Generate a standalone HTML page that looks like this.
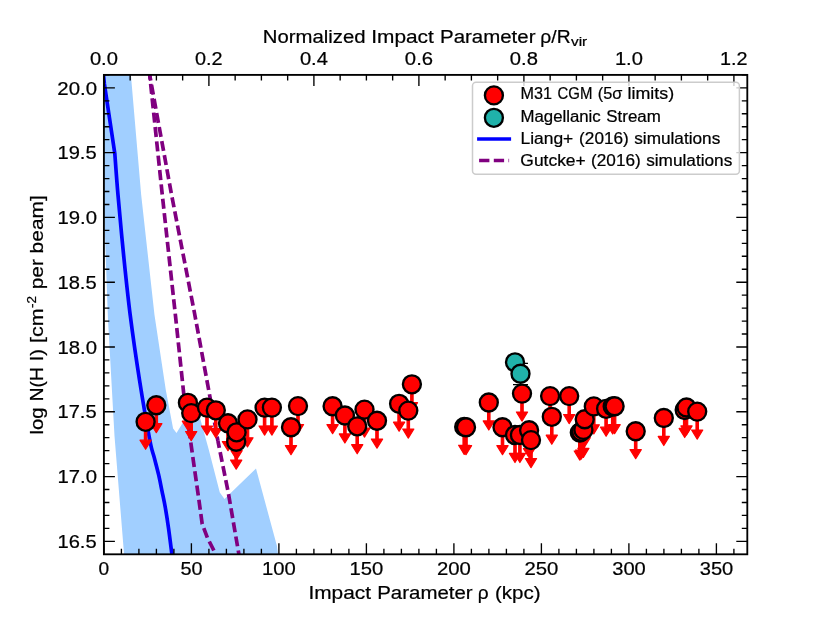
<!DOCTYPE html>
<html><head><meta charset="utf-8"><title>M31 CGM N(HI) limits</title>
<style>html,body{margin:0;padding:0;background:#fff;}svg{display:block;will-change:transform}text{font-family:"Liberation Sans",sans-serif;fill:#000;stroke:#000;stroke-width:.22px}</style>
</head><body>
<svg width="830" height="623" viewBox="0 0 830 623">
<rect x="0" y="0" width="830" height="623" fill="#fff"/>
<defs><clipPath id="ax"><rect x="103.9" y="74.9" width="643.4" height="479.4"/></clipPath></defs>
<g clip-path="url(#ax)">
<polygon fill="#a1cfff" points="103.9,60.0 103.9,205.0 107.9,318.0 114.5,436.0 124.2,556.0 278.3,556.0 276.9,545.7 256.0,468.6 224.5,498.9 219.8,492.4 208.8,449.8 200.6,419.9 195.6,401.9 176.5,432.9 173.1,428.6 165.8,390.0 154.5,315.0 141.2,195.0 130.9,74.9 129.6,60.0"/>
<path fill="none" stroke="#0000ff" stroke-width="3.7" stroke-linejoin="round" d="M103.2,72.0C103.40,74.00 104.20,82.00 104.4,84.0C106.13,95.57 113.07,141.83 114.8,153.4C115.33,160.33 116.53,178.07 118.0,195.0C119.47,211.93 121.57,235.00 123.6,255.0C125.63,275.00 127.55,294.17 130.2,315.0C132.85,335.83 136.23,359.17 139.5,380.0C142.77,400.83 147.35,427.10 149.8,440.0C152.25,452.90 152.73,451.62 154.2,457.4C155.67,463.18 157.30,469.08 158.6,474.7C159.90,480.32 160.88,485.63 162.0,491.1C163.12,496.57 164.20,501.23 165.3,507.5C166.40,513.77 167.50,520.90 168.6,528.7C169.70,536.50 171.23,549.08 171.9,554.3C172.57,559.52 172.48,559.05 172.6,560.0"/>
<polyline fill="none" stroke="#800080" stroke-width="3.7" stroke-dasharray="10.1 4.34" stroke-dashoffset="10.91" points="148.8,66.0 149.7,75.0 162.3,195.0 175.5,316.0 183.7,393.4 190.7,442.0 198.5,497.0 202.2,524.0 207.5,538.0 213.6,550.0 216.0,556.0"/>
<polyline fill="none" stroke="#800080" stroke-width="3.7" stroke-dasharray="10 4.31" stroke-dashoffset="9.53" points="148.2,66.0 149.7,75.0 171.6,195.0 194.3,312.0 209.3,393.4 217.9,440.8"/>
<polyline fill="none" stroke="#800080" stroke-width="3.7" stroke-dasharray="10 4.31" stroke-dashoffset="2.85" points="217.9,440.8 228.3,492.7 238.9,554.3 240.0,560.0"/>
</g>
<g id="arrows" fill="#ff0000" stroke="#ff0000" stroke-width="1.2" stroke-linejoin="round">
<path d="M144.40,421.8h2.4v18.4h4.4l-5.6,9.1l-5.6,-9.1h4.4z"/>
<path d="M155.10,405.2h2.4v18.4h4.4l-5.6,9.1l-5.6,-9.1h4.4z"/>
<path d="M186.70,402.8h2.4v18.4h4.4l-5.6,9.1l-5.6,-9.1h4.4z"/>
<path d="M190.00,413.1h2.4v18.4h4.4l-5.6,9.1l-5.6,-9.1h4.4z"/>
<path d="M205.80,407.6h2.4v18.4h4.4l-5.6,9.1l-5.6,-9.1h4.4z"/>
<path d="M214.60,410.3h2.4v18.4h4.4l-5.6,9.1l-5.6,-9.1h4.4z"/>
<path d="M226.80,423.2h2.4v18.4h4.4l-5.6,9.1l-5.6,-9.1h4.4z"/>
<path d="M235.00,441.7h2.4v18.4h4.4l-5.6,9.1l-5.6,-9.1h4.4z"/>
<path d="M235.40,432.3h2.4v18.4h4.4l-5.6,9.1l-5.6,-9.1h4.4z"/>
<path d="M246.30,419.4h2.4v18.4h4.4l-5.6,9.1l-5.6,-9.1h4.4z"/>
<path d="M263.40,407.6h2.4v18.4h4.4l-5.6,9.1l-5.6,-9.1h4.4z"/>
<path d="M270.70,407.6h2.4v18.4h4.4l-5.6,9.1l-5.6,-9.1h4.4z"/>
<path d="M296.80,406.1h2.4v18.4h4.4l-5.6,9.1l-5.6,-9.1h4.4z"/>
<path d="M289.80,427.2h2.4v18.4h4.4l-5.6,9.1l-5.6,-9.1h4.4z"/>
<path d="M331.40,406.2h2.4v18.4h4.4l-5.6,9.1l-5.6,-9.1h4.4z"/>
<path d="M343.70,415.5h2.4v18.4h4.4l-5.6,9.1l-5.6,-9.1h4.4z"/>
<path d="M363.30,409.6h2.4v18.4h4.4l-5.6,9.1l-5.6,-9.1h4.4z"/>
<path d="M356.00,426.3h2.4v18.4h4.4l-5.6,9.1l-5.6,-9.1h4.4z"/>
<path d="M375.80,420.7h2.4v18.4h4.4l-5.6,9.1l-5.6,-9.1h4.4z"/>
<path d="M397.90,403.8h2.4v18.4h4.4l-5.6,9.1l-5.6,-9.1h4.4z"/>
<path d="M410.70,384.3h2.4v18.4h4.4l-5.6,9.1l-5.6,-9.1h4.4z"/>
<path d="M407.10,410.6h2.4v18.4h4.4l-5.6,9.1l-5.6,-9.1h4.4z"/>
<path d="M463.00,426.9h2.4v18.4h4.4l-5.6,9.1l-5.6,-9.1h4.4z"/>
<path d="M464.80,427.2h2.4v18.4h4.4l-5.6,9.1l-5.6,-9.1h4.4z"/>
<path d="M487.60,402.5h2.4v18.4h4.4l-5.6,9.1l-5.6,-9.1h4.4z"/>
<path d="M501.30,427.2h2.4v18.4h4.4l-5.6,9.1l-5.6,-9.1h4.4z"/>
<path d="M513.80,435.0h2.4v18.4h4.4l-5.6,9.1l-5.6,-9.1h4.4z"/>
<path d="M518.70,435.0h2.4v18.4h4.4l-5.6,9.1l-5.6,-9.1h4.4z"/>
<path d="M520.80,393.6h2.4v18.4h4.4l-5.6,9.1l-5.6,-9.1h4.4z"/>
<path d="M527.90,430.2h2.4v18.4h4.4l-5.6,9.1l-5.6,-9.1h4.4z"/>
<path d="M529.80,440.1h2.4v18.4h4.4l-5.6,9.1l-5.6,-9.1h4.4z"/>
<path d="M548.90,396.1h2.4v18.4h4.4l-5.6,9.1l-5.6,-9.1h4.4z"/>
<path d="M550.60,416.8h2.4v18.4h4.4l-5.6,9.1l-5.6,-9.1h4.4z"/>
<path d="M568.00,396.1h2.4v18.4h4.4l-5.6,9.1l-5.6,-9.1h4.4z"/>
<path d="M578.60,432.6h2.4v18.4h4.4l-5.6,9.1l-5.6,-9.1h4.4z"/>
<path d="M580.00,431.6h2.4v18.4h4.4l-5.6,9.1l-5.6,-9.1h4.4z"/>
<path d="M582.20,429.9h2.4v18.4h4.4l-5.6,9.1l-5.6,-9.1h4.4z"/>
<path d="M583.50,419.2h2.4v18.4h4.4l-5.6,9.1l-5.6,-9.1h4.4z"/>
<path d="M592.60,406.4h2.4v18.4h4.4l-5.6,9.1l-5.6,-9.1h4.4z"/>
<path d="M604.90,408.8h2.4v18.4h4.4l-5.6,9.1l-5.6,-9.1h4.4z"/>
<path d="M611.50,406.5h2.4v18.4h4.4l-5.6,9.1l-5.6,-9.1h4.4z"/>
<path d="M613.40,406.2h2.4v18.4h4.4l-5.6,9.1l-5.6,-9.1h4.4z"/>
<path d="M634.50,431.2h2.4v18.4h4.4l-5.6,9.1l-5.6,-9.1h4.4z"/>
<path d="M662.60,418.0h2.4v18.4h4.4l-5.6,9.1l-5.6,-9.1h4.4z"/>
<path d="M683.50,410.0h2.4v18.4h4.4l-5.6,9.1l-5.6,-9.1h4.4z"/>
<path d="M685.30,407.5h2.4v18.4h4.4l-5.6,9.1l-5.6,-9.1h4.4z"/>
<path d="M696.00,411.6h2.4v18.4h4.4l-5.6,9.1l-5.6,-9.1h4.4z"/>
</g>
<path d="M520.5,363.4v21.3M513,363.4h15M513,384.7h15" stroke="#000" stroke-width="1.3" fill="none"/>
<g id="teal" fill="#20b2aa" stroke="#000" stroke-width="2.35">
<circle cx="515.0" cy="362.3" r="9"/>
<circle cx="520.5" cy="373.7" r="9"/>
</g>
<g id="pts" fill="#ff0000" stroke="#000" stroke-width="2.35">
<circle cx="145.6" cy="421.8" r="9"/>
<circle cx="156.3" cy="405.2" r="9"/>
<circle cx="187.9" cy="402.8" r="9"/>
<circle cx="191.2" cy="413.1" r="9"/>
<circle cx="207.0" cy="407.6" r="9"/>
<circle cx="215.8" cy="410.3" r="9"/>
<circle cx="228.0" cy="423.2" r="9"/>
<circle cx="236.2" cy="441.7" r="9"/>
<circle cx="236.6" cy="432.3" r="9"/>
<circle cx="247.5" cy="419.4" r="9"/>
<circle cx="264.6" cy="407.6" r="9"/>
<circle cx="271.9" cy="407.6" r="9"/>
<circle cx="298.0" cy="406.1" r="9"/>
<circle cx="291.0" cy="427.2" r="9"/>
<circle cx="332.6" cy="406.2" r="9"/>
<circle cx="344.9" cy="415.5" r="9"/>
<circle cx="364.5" cy="409.6" r="9"/>
<circle cx="357.2" cy="426.3" r="9"/>
<circle cx="377.0" cy="420.7" r="9"/>
<circle cx="399.1" cy="403.8" r="9"/>
<circle cx="411.9" cy="384.3" r="9"/>
<circle cx="408.3" cy="410.6" r="9"/>
<circle cx="464.2" cy="426.9" r="9"/>
<circle cx="466.0" cy="427.2" r="9"/>
<circle cx="488.8" cy="402.5" r="9"/>
<circle cx="502.5" cy="427.2" r="9"/>
<circle cx="515.0" cy="435.0" r="9"/>
<circle cx="519.9" cy="435.0" r="9"/>
<circle cx="522.0" cy="393.6" r="9"/>
<circle cx="529.1" cy="430.2" r="9"/>
<circle cx="531.0" cy="440.1" r="9"/>
<circle cx="550.1" cy="396.1" r="9"/>
<circle cx="551.8" cy="416.8" r="9"/>
<circle cx="569.2" cy="396.1" r="9"/>
<circle cx="579.8" cy="432.6" r="9"/>
<circle cx="581.2" cy="431.6" r="9"/>
<circle cx="583.4" cy="429.9" r="9"/>
<circle cx="584.7" cy="419.2" r="9"/>
<circle cx="593.8" cy="406.4" r="9"/>
<circle cx="606.1" cy="408.8" r="9"/>
<circle cx="612.7" cy="406.5" r="9"/>
<circle cx="614.6" cy="406.2" r="9"/>
<circle cx="635.7" cy="431.2" r="9"/>
<circle cx="663.8" cy="418.0" r="9"/>
<circle cx="684.7" cy="410.0" r="9"/>
<circle cx="686.5" cy="407.5" r="9"/>
<circle cx="697.2" cy="411.6" r="9"/>
</g>
<path d="M103.90,554.3v-11.0M121.40,554.3v-5.5M138.90,554.3v-5.5M156.40,554.3v-5.5M173.90,554.3v-5.5M191.40,554.3v-11.0M208.90,554.3v-5.5M226.40,554.3v-5.5M243.90,554.3v-5.5M261.40,554.3v-5.5M278.90,554.3v-11.0M296.40,554.3v-5.5M313.90,554.3v-5.5M331.40,554.3v-5.5M348.90,554.3v-5.5M366.40,554.3v-11.0M383.90,554.3v-5.5M401.40,554.3v-5.5M418.90,554.3v-5.5M436.40,554.3v-5.5M453.90,554.3v-11.0M471.40,554.3v-5.5M488.90,554.3v-5.5M506.40,554.3v-5.5M523.90,554.3v-5.5M541.40,554.3v-11.0M558.90,554.3v-5.5M576.40,554.3v-5.5M593.90,554.3v-5.5M611.40,554.3v-5.5M628.90,554.3v-11.0M646.40,554.3v-5.5M663.90,554.3v-5.5M681.40,554.3v-5.5M698.90,554.3v-5.5M716.40,554.3v-11.0M733.90,554.3v-5.5M103.90,74.9v11.0M130.15,74.9v5.5M156.40,74.9v5.5M182.65,74.9v5.5M208.90,74.9v11.0M235.15,74.9v5.5M261.40,74.9v5.5M287.65,74.9v5.5M313.90,74.9v11.0M340.15,74.9v5.5M366.40,74.9v5.5M392.65,74.9v5.5M418.90,74.9v11.0M445.15,74.9v5.5M471.40,74.9v5.5M497.65,74.9v5.5M523.90,74.9v11.0M550.15,74.9v5.5M576.40,74.9v5.5M602.65,74.9v5.5M628.90,74.9v11.0M655.15,74.9v5.5M681.40,74.9v5.5M707.65,74.9v5.5M733.90,74.9v11.0M103.9,541.34h11.0M747.3,541.34h-11.0M103.9,528.39h5.5M747.3,528.39h-5.5M103.9,515.43h5.5M747.3,515.43h-5.5M103.9,502.47h5.5M747.3,502.47h-5.5M103.9,489.51h5.5M747.3,489.51h-5.5M103.9,476.56h11.0M747.3,476.56h-11.0M103.9,463.60h5.5M747.3,463.60h-5.5M103.9,450.64h5.5M747.3,450.64h-5.5M103.9,437.69h5.5M747.3,437.69h-5.5M103.9,424.73h5.5M747.3,424.73h-5.5M103.9,411.77h11.0M747.3,411.77h-11.0M103.9,398.82h5.5M747.3,398.82h-5.5M103.9,385.86h5.5M747.3,385.86h-5.5M103.9,372.90h5.5M747.3,372.90h-5.5M103.9,359.94h5.5M747.3,359.94h-5.5M103.9,346.99h11.0M747.3,346.99h-11.0M103.9,334.03h5.5M747.3,334.03h-5.5M103.9,321.07h5.5M747.3,321.07h-5.5M103.9,308.12h5.5M747.3,308.12h-5.5M103.9,295.16h5.5M747.3,295.16h-5.5M103.9,282.20h11.0M747.3,282.20h-11.0M103.9,269.25h5.5M747.3,269.25h-5.5M103.9,256.29h5.5M747.3,256.29h-5.5M103.9,243.33h5.5M747.3,243.33h-5.5M103.9,230.38h5.5M747.3,230.38h-5.5M103.9,217.42h11.0M747.3,217.42h-11.0M103.9,204.46h5.5M747.3,204.46h-5.5M103.9,191.50h5.5M747.3,191.50h-5.5M103.9,178.55h5.5M747.3,178.55h-5.5M103.9,165.59h5.5M747.3,165.59h-5.5M103.9,152.63h11.0M747.3,152.63h-11.0M103.9,139.68h5.5M747.3,139.68h-5.5M103.9,126.72h5.5M747.3,126.72h-5.5M103.9,113.76h5.5M747.3,113.76h-5.5M103.9,100.80h5.5M747.3,100.80h-5.5M103.9,87.85h11.0M747.3,87.85h-11.0M103.9,74.89h5.5M747.3,74.89h-5.5" stroke="#000" stroke-width="1.35" fill="none"/>
<rect x="103.9" y="74.9" width="643.4" height="479.4" fill="none" stroke="#000" stroke-width="1.85"/>
<rect x="472.5" y="82.2" width="266.9" height="92.0" rx="3.5" ry="3.5" fill="#fff" fill-opacity="0.8" stroke="#ccc" stroke-width="1.5"/>
<circle cx="493.9" cy="95.4" r="9" fill="#ff0000" stroke="#000" stroke-width="2.35"/>
<circle cx="493.9" cy="117.8" r="9" fill="#20b2aa" stroke="#000" stroke-width="2.35"/>
<path d="M477.1,139h34" stroke="#0000ff" stroke-width="3.7" fill="none"/>
<path d="M479.1,160.5h30" stroke="#800080" stroke-width="3.7" stroke-dasharray="10.3 4.4" fill="none"/>
<text transform="translate(520.55,99.00) scale(1.0386,1)" font-size="15.58">M31</text>
<text transform="translate(557.53,99.00) scale(0.9610,1)" font-size="15.58">CGM</text>
<text transform="translate(597.80,99.00) scale(1.0475,1)" font-size="15.58">(5σ</text>
<text transform="translate(627.60,99.00) scale(1.1446,1)" font-size="15.58">limits)</text>
<text transform="translate(520.50,122.30) scale(1.0776,1)" font-size="15.58">Magellanic</text>
<text transform="translate(606.29,122.30) scale(1.0865,1)" font-size="15.58">Stream</text>
<text transform="translate(520.45,144.30) scale(1.1196,1)" font-size="15.58">Liang+</text>
<text transform="translate(579.10,144.30) scale(1.1044,1)" font-size="15.58">(2016)</text>
<text transform="translate(634.22,144.30) scale(1.1050,1)" font-size="15.58">simulations</text>
<text transform="translate(520.37,165.80) scale(1.1198,1)" font-size="15.58">Gutcke+</text>
<text transform="translate(591.07,165.80) scale(1.1044,1)" font-size="15.58">(2016)</text>
<text transform="translate(646.19,165.80) scale(1.1050,1)" font-size="15.58">simulations</text>
<text transform="translate(98.58,574.50) scale(1.0335,1)" font-size="18.51">0</text>
<text transform="translate(180.46,574.50) scale(1.0712,1)" font-size="18.51">50</text>
<text transform="translate(262.03,574.50) scale(1.0935,1)" font-size="18.51">100</text>
<text transform="translate(349.53,574.50) scale(1.0935,1)" font-size="18.51">150</text>
<text transform="translate(436.89,574.50) scale(1.0983,1)" font-size="18.51">200</text>
<text transform="translate(524.39,574.50) scale(1.0983,1)" font-size="18.51">250</text>
<text transform="translate(612.19,574.50) scale(1.0881,1)" font-size="18.51">300</text>
<text transform="translate(699.69,574.50) scale(1.0881,1)" font-size="18.51">350</text>
<text transform="translate(89.88,64.80) scale(1.0895,1)" font-size="18.51">0.0</text>
<text transform="translate(194.89,64.80) scale(1.0735,1)" font-size="18.51">0.2</text>
<text transform="translate(299.88,64.80) scale(1.0890,1)" font-size="18.51">0.4</text>
<text transform="translate(404.87,64.80) scale(1.0961,1)" font-size="18.51">0.6</text>
<text transform="translate(509.87,64.80) scale(1.0917,1)" font-size="18.51">0.8</text>
<text transform="translate(614.93,64.80) scale(1.0874,1)" font-size="18.51">1.0</text>
<text transform="translate(719.95,64.80) scale(1.0709,1)" font-size="18.51">1.2</text>
<text transform="translate(57.45,548.04) scale(1.0883,1)" font-size="18.51">16.5</text>
<text transform="translate(57.43,483.26) scale(1.0978,1)" font-size="18.51">17.0</text>
<text transform="translate(57.45,418.47) scale(1.0883,1)" font-size="18.51">17.5</text>
<text transform="translate(57.43,353.69) scale(1.0978,1)" font-size="18.51">18.0</text>
<text transform="translate(57.45,288.90) scale(1.0883,1)" font-size="18.51">18.5</text>
<text transform="translate(57.43,224.12) scale(1.0978,1)" font-size="18.51">19.0</text>
<text transform="translate(57.45,159.33) scale(1.0883,1)" font-size="18.51">19.5</text>
<text transform="translate(57.29,94.55) scale(1.1018,1)" font-size="18.51">20.0</text>
<text transform="translate(308.46,598.60) scale(1.1143,1)" font-size="18.73">Impact</text>
<text transform="translate(377.24,598.60) scale(1.0919,1)" font-size="18.73">Parameter</text>
<text transform="translate(477.75,598.60) scale(1.0210,1)" font-size="18.73">ρ</text>
<text transform="translate(494.92,598.60) scale(1.0955,1)" font-size="18.73">(kpc)</text>
<text transform="translate(262.81,43.20) scale(1.0852,1)" font-size="18.73">Normalized</text>
<text transform="translate(371.25,43.20) scale(1.1143,1)" font-size="18.73">Impact</text>
<text transform="translate(440.04,43.20) scale(1.0919,1)" font-size="18.73">Parameter</text>
<text transform="translate(540.36,43.20) scale(1.0281,1)" font-size="18.73">ρ/R</text>
<text transform="translate(571.03,46.40) scale(1.1710,1)" font-size="13.11">vir</text>
<g transform="translate(42.8,434.8) rotate(-90)">
<text transform="translate(0.35,0.00) scale(1.0791,1)" font-size="18.73">log</text>
<text transform="translate(33.66,0.00) scale(1.0171,1)" font-size="18.73">N(H</text>
<text transform="translate(73.46,0.00) scale(1.0633,1)" font-size="18.73">I)</text>
<text transform="translate(91.75,0.00) scale(1.1462,1)" font-size="18.73">[cm</text>
<text transform="translate(126.77,-6.80) scale(1.0345,1)" font-size="13.11">-2</text>
<text transform="translate(145.50,0.00) scale(1.1153,1)" font-size="18.73">per</text>
<text transform="translate(181.41,0.00) scale(1.1181,1)" font-size="18.73">beam]</text>
</g>
</svg>
</body></html>
